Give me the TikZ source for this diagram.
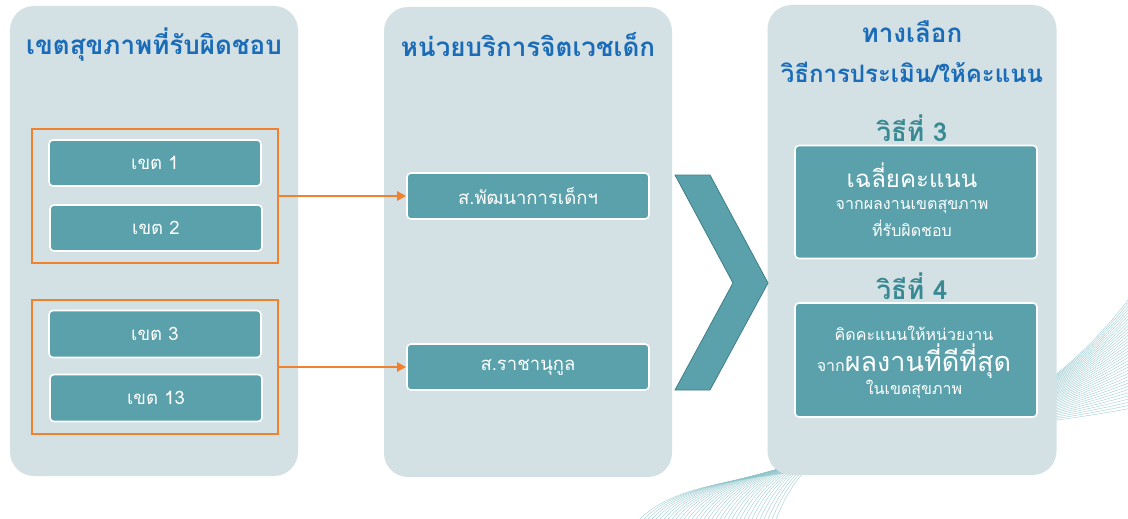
\documentclass[tikz,border=0pt]{standalone}
\usepackage{fontspec}
\setmainfont[Script=Thai]{Loma}
\usetikzlibrary{arrows.meta,calc}
\definecolor{panelbg}{HTML}{D3E1E4}
\definecolor{boxfill}{HTML}{5AA1AB}
\definecolor{chevedge}{HTML}{3F7F88}
\definecolor{orng}{HTML}{F0822F}
\definecolor{ttlblue}{HTML}{1A6BB8}
\definecolor{tealtxt}{HTML}{3A8A94}
\definecolor{wave}{HTML}{8EC3C9}
\tikzset{
  panel/.style={fill=panelbg, draw=none, rounded corners=24pt, minimum width=#1, minimum height=470pt, inner sep=0pt},
  grp/.style={draw=orng, line width=2.2pt, minimum width=246pt, minimum height=134pt, inner sep=0pt},
  tbox/.style={fill=boxfill, draw=white, line width=1.6pt, rounded corners=4pt, minimum width=#1, inner sep=0pt, text=white, font=\fontsize{18.5}{20}\selectfont},
  ttl/.style={text=ttlblue, font=\bfseries\fontsize{26}{30}\selectfont},
  sub/.style={text=tealtxt, font=\bfseries\fontsize{26}{30}\selectfont},
  flow/.style={draw=orng, line width=2.4pt, -{Triangle[length=9pt,width=9pt]}},
  small/.style={text=white, font=\fontsize{16}{18}\selectfont, inner sep=0pt},
  big/.style={text=white, font=\fontsize{24}{28}\selectfont, inner sep=0pt}
}
\begin{document}
\begin{tikzpicture}[x=1pt,y=-1pt]
\useasboundingbox (0,0) rectangle (1128,519);
% decorative waves
\foreach \i in {0,...,34}{
  \draw[wave, line width=0.4pt, opacity=0.85]
    (640+4*\i,519) .. controls (720+3*\i,440-\i) and (960-2*\i,520-2*\i) .. (1128,300+3.2*\i);
}
% panels
\node[panel=288pt] (pl) at (154,241) {};
\node[panel=288pt] (pm) at (528,242) {};
\node[panel=289pt] (pr) at (912,240) {};
% titles
\node[ttl] (tl) at (154,45) {เขตสุขภาพที่รับผิดชอบ};
\node[ttl] (tm) at (528,45) {หน่วยบริการจิตเวชเด็ก};
\node[ttl] (tr1) at (912,32) {ทางเลือก};
\node[ttl, font=\bfseries\fontsize{24}{28}\selectfont] (tr2) at (912,72) {วิธีการประเมิน/ให้คะแนน};
% left groups
\node[grp] (g1) at (155,196) {};
\node[grp] (g2) at (155,367) {};
\node[tbox=212pt, minimum height=46pt] (k1) at (155,163) {เขต 1};
\node[tbox=212pt, minimum height=46pt] (k2) at (156,228) {เขต 2};
\node[tbox=212pt, minimum height=47pt] (k3) at (155,334) {เขต 3};
\node[tbox=212pt, minimum height=47pt] (k13) at (156,398) {เขต 13};
% middle boxes
\node[tbox=242pt, minimum height=46pt] (pd) at (528,196) {ส.พัฒนาการเด็กฯ};
\node[tbox=242pt, minimum height=46pt] (rn) at (528,367) {ส.ราชานุกูล};
% arrows
\draw[flow] (g1.east) -- (pd.west);
\draw[flow] (g2.east) -- (rn.west);
% chevron
\filldraw[fill=boxfill, draw=chevedge, line width=0.8pt]
  (675,175) -- (710,175) -- (768,283) -- (710,390) -- (675,390) -- (733,283) -- cycle;
% right side
\node[sub] (m3) at (912,128) {วิธีที่ 3};
\node[tbox=242pt, minimum height=113pt] (r1) at (916,202) {};
\node[big] (r1a) at (912,175) {เฉลี่ยคะแนน};
\node[small] (r1b) at (912,207) {จากผลงานเขตสุขภาพ};
\node[small] (r1c) at (912,228) {ที่รับผิดชอบ};
\node[sub] (m4) at (912,286) {วิธีที่ 4};
\node[tbox=242pt, minimum height=114pt] (r2) at (916,360) {};
\node[small] (r2a) at (914,333) {คิดคะแนนให้หน่วยงาน};
\node[inner sep=0pt, text=white] (r2b) at (914,361) {{\fontsize{16}{18}\selectfont จาก}{\fontsize{27}{30}\selectfont ผลงานที่ดีที่สุด}};
\node[small] (r2c) at (914,389) {ในเขตสุขภาพ};
\end{tikzpicture}
\end{document}
